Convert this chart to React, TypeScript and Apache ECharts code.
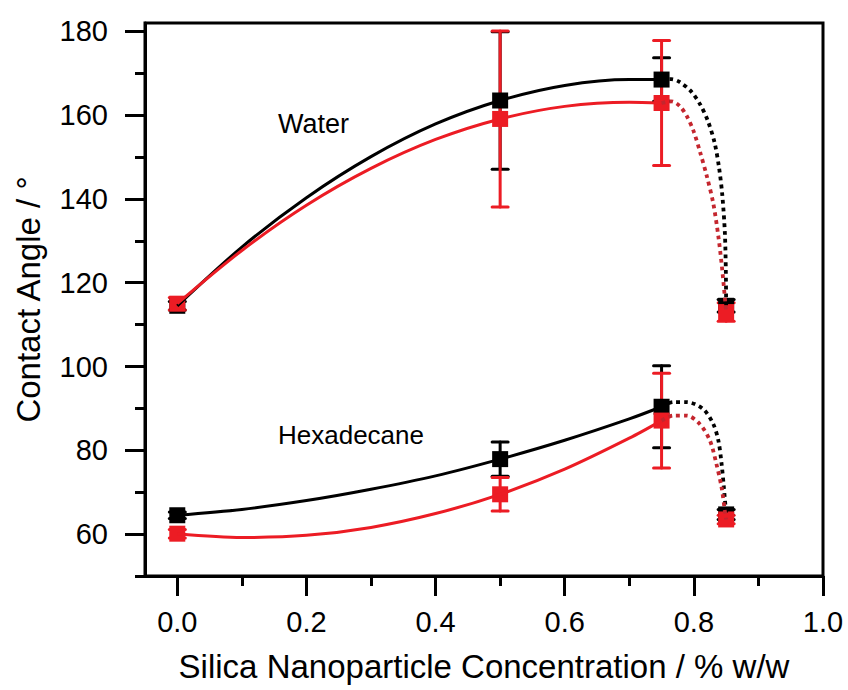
import React, { useEffect, useRef } from "react";
import * as echarts from "echarts";

// measured points
const concentrations = [0, 0.5, 0.75, 0.85];
const waterBlack = [114.5, 163.5, 168.5, 114.5];
const waterBlackErr = [1.0, 16.4, 5.2, 1.5];
const waterRed = [115.0, 159.1, 162.9, 113.0];
const waterRedErr = [1.5, 21.0, 14.9, 2.2];
const hexBlack = [64.5, 77.9, 90.4, 64.7];
const hexBlackErr = [0.8, 4.1, 9.8, 1.2];
const hexRed = [60.1, 69.5, 87.1, 63.5];
const hexRedErr = [1.0, 4.0, 11.3, 1.0];

// traced fitted curves (solid part, then dotted part)
const waterBlackFit = [[0, 114.5], [0.1, 128.5], [0.2, 140.3], [0.3, 150.1], [0.4, 157.9], [0.5, 163.5], [0.6, 167.1], [0.7, 168.5], [0.75, 168.5]];
const waterBlackDot = [[0.75, 168.5], [0.765, 168.6], [0.777, 168.0], [0.795, 165.8], [0.81, 162.5], [0.822, 158.5], [0.832, 153.5], [0.839, 147.5], [0.844, 141.0], [0.848, 132.0], [0.8495, 123.0], [0.85, 114.5]];
const waterRedFit = [[0, 115.0], [0.1, 127.7], [0.2, 138.5], [0.3, 147.3], [0.4, 154.2], [0.5, 159.1], [0.6, 162.1], [0.7, 163.1], [0.75, 162.9]];
const waterRedDot = [[0.75, 162.9], [0.765, 163.3], [0.778, 162.2], [0.79, 159.5], [0.8, 156.0], [0.81, 151.0], [0.82, 145.5], [0.83, 139.0], [0.838, 131.0], [0.844, 123.0], [0.85, 113.0]];
const hexBlackFit = [[0, 64.5], [0.1, 65.9], [0.2, 68.0], [0.3, 70.7], [0.4, 73.9], [0.5, 77.9], [0.6, 82.4], [0.7, 87.5], [0.75, 90.4]];
const hexBlackDot = [[0.75, 90.4], [0.768, 91.5], [0.789, 91.5], [0.814, 89.9], [0.83, 86.3], [0.838, 82.3], [0.843, 76.7], [0.8465, 71.1], [0.85, 64.7]];
const hexRedFit = [[0, 60.1], [0.1, 59.2], [0.2, 59.7], [0.3, 61.6], [0.4, 64.9], [0.5, 69.5], [0.6, 75.5], [0.7, 82.9], [0.75, 87.1]];
const hexRedDot = [[0.75, 87.1], [0.768, 88.3], [0.789, 88.3], [0.809, 86.3], [0.825, 82.3], [0.835, 76.7], [0.843, 71.1], [0.848, 65.5], [0.85, 63.5]];

const xMajorTicks = [0, 0.2, 0.4, 0.6, 0.8, 1.0];
const xMinorTicks = [0.1, 0.3, 0.5, 0.7, 0.9];
const yMajorTicks = [60, 80, 100, 120, 140, 160, 180];
const yMinorTicks = [50, 70, 90, 110, 130, 150, 170];

const BLACK = "#000000";
const RED = "#ec1c24";
const RED_DOT = "#c4262e";
const FONT = "'Liberation Sans', Arial, sans-serif";

function pts(vals: number[]) {
  return concentrations.map((x, i) => [x, vals[i]]);
}
function errs(vals: number[], e: number[]) {
  return concentrations.map((x, i) => [x, vals[i] - e[i], vals[i] + e[i]]);
}

function fitLine(data: number[][], color: string, dotted: boolean) {
  return {
    type: "line",
    data,
    smooth: 0.3,
    showSymbol: false,
    symbol: "none",
    lineStyle: dotted
      ? { color, width: 3.8, type: [3.8, 4], cap: "butt" }
      : { color, width: 3 },
    silent: true,
  };
}

function markers(data: number[][], color: string) {
  return {
    type: "scatter",
    data,
    symbol: "rect",
    symbolSize: 16,
    itemStyle: { color, opacity: 1 },
    silent: true,
  };
}

function errorBars(data: number[][], color: string) {
  return {
    type: "custom",
    data,
    encode: { x: 0, y: [1, 2] },
    silent: true,
    renderItem: (_params: any, api: any) => {
      const x = api.value(0);
      const lo = api.coord([x, api.value(1)]);
      const hi = api.coord([x, api.value(2)]);
      const w = 8;
      const style = { stroke: color, lineWidth: 3, lineCap: "round" };
      return {
        type: "group",
        children: [
          { type: "line", shape: { x1: lo[0], y1: lo[1], x2: hi[0], y2: hi[1] }, style },
          { type: "line", shape: { x1: lo[0] - w, y1: lo[1], x2: lo[0] + w, y2: lo[1] }, style },
          { type: "line", shape: { x1: hi[0] - w, y1: hi[1], x2: hi[0] + w, y2: hi[1] }, style },
        ],
      };
    },
  };
}

export default function App() {
  const ref = useRef<HTMLDivElement>(null);
  useEffect(() => {
    if (!ref.current) return;
    const chart = echarts.init(ref.current, null, { renderer: "svg" });
    const axisLineStyle = { color: BLACK, width: 3 };
    chart.setOption({
      animation: false,
      backgroundColor: "#ffffff",
      textStyle: { fontFamily: FONT },
      grid: {
        left: 145,
        right: 25,
        top: 23,
        bottom: 114,
        show: true,
        borderColor: BLACK,
        borderWidth: 3,
        backgroundColor: "transparent",
      },
      xAxis: [
        {
          type: "value",
          position: "bottom",
          min: -0.05,
          max: 1.0,
          axisLine: { show: true, onZero: false, lineStyle: axisLineStyle },
          axisTick: { show: true, inside: false, customValues: xMajorTicks, length: 20, lineStyle: axisLineStyle },
          axisLabel: {
            customValues: xMajorTicks,
            formatter: (v: number) => v.toFixed(1),
            fontSize: 29,
            color: BLACK,
            fontFamily: FONT,
            margin: 31,
          },
          splitLine: { show: false },
          name: "Silica Nanoparticle Concentration / % w/w",
          nameLocation: "middle",
          nameGap: 74,
          nameTextStyle: { fontSize: 33, color: BLACK, fontFamily: FONT },
        },
        {
          type: "value",
          position: "bottom",
          offset: 0,
          min: -0.05,
          max: 1.0,
          axisLine: { show: false, onZero: false },
          axisTick: { show: true, inside: false, customValues: xMinorTicks, length: 10, lineStyle: axisLineStyle },
          axisLabel: { show: false },
          splitLine: { show: false },
        },
      ],
      yAxis: [
        {
          type: "value",
          position: "left",
          min: 50,
          max: 182,
          axisLine: { show: true, onZero: false, lineStyle: axisLineStyle },
          axisTick: { show: true, inside: false, customValues: yMajorTicks, length: 20, lineStyle: axisLineStyle },
          axisLabel: {
            customValues: yMajorTicks,
            fontSize: 29,
            color: BLACK,
            fontFamily: FONT,
            margin: 37,
          },
          splitLine: { show: false },
          name: "Contact Angle / °",
          nameLocation: "middle",
          nameGap: 100,
          nameTextStyle: { fontSize: 33, color: BLACK, fontFamily: FONT },
        },
        {
          type: "value",
          position: "left",
          offset: 0,
          min: 50,
          max: 182,
          axisLine: { show: false, onZero: false },
          axisTick: { show: true, inside: false, customValues: yMinorTicks, length: 10, lineStyle: axisLineStyle },
          axisLabel: { show: false },
          splitLine: { show: false },
        },
      ],
      graphic: [
        {
          type: "text",
          left: 278,
          top: 110,
          style: { text: "Water", fontSize: 27, fill: BLACK, fontFamily: FONT },
        },
        {
          type: "text",
          left: 278,
          top: 422,
          style: { text: "Hexadecane", fontSize: 26, fill: BLACK, fontFamily: FONT },
        },
      ],
      series: [
        fitLine(waterBlackFit, BLACK, false),
        fitLine(waterBlackDot, BLACK, true),
        fitLine(hexBlackFit, BLACK, false),
        fitLine(hexBlackDot, BLACK, true),
        markers(pts(waterBlack), BLACK),
        markers(pts(hexBlack), BLACK),
        errorBars(errs(waterBlack, waterBlackErr), BLACK),
        errorBars(errs(hexBlack, hexBlackErr), BLACK),
        fitLine(waterRedFit, RED, false),
        fitLine(waterRedDot, RED_DOT, true),
        fitLine(hexRedFit, RED, false),
        fitLine(hexRedDot, RED_DOT, true),
        markers(pts(waterRed), RED),
        markers(pts(hexRed), RED),
        errorBars(errs(waterRed, waterRedErr), RED),
        errorBars(errs(hexRed, hexRedErr), RED),
      ],
    });
    return () => chart.dispose();
  }, []);
  return (
    <div
      ref={ref}
      style={{ position: "fixed", left: 0, top: 0, width: 848, height: 690, background: "#fff" }}
    />
  );
}
